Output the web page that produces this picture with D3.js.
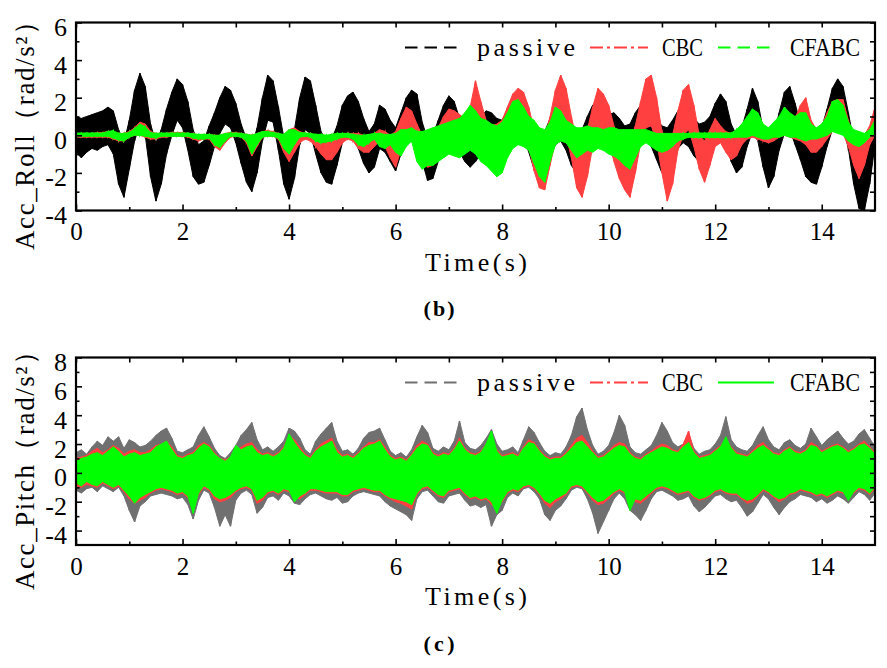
<!DOCTYPE html>
<html><head><meta charset="utf-8">
<script src="https://cdn.jsdelivr.net/npm/d3@7"></script>
<style>body{margin:0;background:#fff}svg{display:block}</style>
</head><body><svg id="c" width="887" height="668"></svg>
<script>
// ---------------- DATA (envelopes of the dense signals, sampled every 0.1 s) ----------------
const timeStep = 0.1;
const nSamples = 151;
const xTicksMajor = [0, 2, 4, 6, 8, 10, 12, 14];
const xTicksMinor = [1, 3, 5, 7, 9, 11, 13];
const rollTicksMajor = [-4, -2, 0, 2, 4, 6];
const rollTicksMinor = [-3, -1, 1, 3, 5];
const pitchTicksMajor = [-4, -2, 0, 2, 4, 6, 8];
const pitchTicksMinor = [-3, -1, 1, 3, 5, 7];
const seriesNames = ["passive", "CBC", "CFABC"];

// Acc_Roll (b)
const rollPassiveUpper = [
 1.0, 0.9, 1.0, 1.1, 1.2, 1.3, 1.5, 1.3, 0.3, -0.4,
 0.8, 2.4, 3.3, 2.6, 0.6, -0.4, 0.3, 1.4, 2.3, 3.0,
 2.7, 1.8, 0.3, -0.5, -0.3, 0.5, 1.2, 2.0, 2.6, 2.4,
 1.7, 0.6, -0.2, -0.6, 0.4, 2.0, 3.2, 2.9, 1.5, -0.1,
 -0.5, 0.3, 2.0, 3.1, 2.9, 1.6, 0.2, -0.3, -0.2, 0.5,
 1.6, 2.1, 2.3, 1.8, 0.9, 0.2, 0.6, 1.6, 1.4, 0.8,
 0.4, 1.2, 2.0, 2.4, 2.2, 0.7, -0.2, 0.0, 0.8, 1.6,
 2.1, 1.8, 0.9, 0.3, 0.0, 0.5, 1.0, 1.3, 1.2, 0.9,
 0.8, 1.4, 2.0, 2.3, 2.0, 1.2, 0.2, -0.2, 0.2, 0.9,
 1.6, 1.8, 1.2, 0.4, 0.0, 0.3, 1.0, 1.6, 1.9, 1.6,
 1.1, 1.2, 0.9, 0.5, 0.6, 1.2, 1.6, 1.8, 1.4, 0.9,
 0.5, 0.4, 0.8, 1.3, 1.6, 1.3, 0.9, 0.6, 0.7, 1.0,
 1.7, 2.2, 1.8, 0.6, 0.0, 0.4, 1.4, 2.5, 1.8, 0.3,
 -0.5, 0.0, 1.2, 2.3, 2.6, 1.7, 0.6, -0.2, -0.4, -0.3,
 0.4, 1.4, 2.5, 3.0, 2.6, 1.2, -0.3, -1.2, -0.9, 0.2,
 1.3];
const rollPassiveLower = [
 -0.9, -1.2, -0.9, -0.7, -0.8, -0.6, -0.5, -1.0, -2.6, -3.3,
 -1.8, -0.3, 0.6, 0.0, -2.2, -3.5, -2.6, -1.0, 0.0, 0.8,
 0.4, -0.8, -2.2, -2.6, -2.5, -1.6, -0.6, 0.1, 0.6, 0.4,
 -0.4, -1.5, -2.5, -3.0, -2.0, -0.3, 0.8, 0.7, -0.8, -2.6,
 -3.4, -2.3, -0.5, 0.3, 0.1, -1.0, -2.0, -2.5, -2.6, -1.6,
 -0.4, 0.0, -0.1, -0.7, -1.5, -2.0, -1.7, -0.7, -0.9, -1.4,
 -1.9, -1.0, -0.3, 0.0, -0.3, -1.4, -2.4, -2.3, -1.4, -0.4,
 0.0, -0.3, -0.9, -1.4, -1.7, -1.4, -1.0, -0.6, -0.8, -1.1,
 -1.3, -0.8, -0.3, 0.0, -0.2, -0.9, -1.8, -2.3, -2.0, -1.2,
 -0.5, -0.3, -0.8, -1.6, -2.0, -1.6, -0.9, -0.3, 0.0, -0.3,
 -0.8, -1.2, -1.8, -2.2, -1.9, -1.0, -0.4, -0.2, -0.6, -1.3,
 -2.0, -2.2, -1.5, -0.7, -0.4, -0.6, -1.1, -1.4, -1.5, -1.0,
 -0.5, 0.0, -0.4, -1.4, -2.0, -1.7, -0.6, 0.2, -0.3, -1.7,
 -2.8, -2.2, -0.8, 0.1, 0.3, -0.5, -1.3, -2.2, -2.5, -2.6,
 -1.7, -0.6, 0.3, 0.6, 0.4, -0.7, -2.6, -3.9, -4.0, -2.6,
 -0.5];
const rollCBCUpper = [
 0.1, 0.1, 0.1, 0.1, 0.15, 0.15, 0.2, 0.2, 0.1, 0.1,
 0.2, 0.4, 0.7, 0.6, 0.2, 0.1, 0.1, 0.1, 0.15, 0.15,
 0.15, 0.1, 0.1, 0.0, 0.0, 0.05, 0.0, 0.0, 0.1, 0.15,
 0.15, 0.1, 0.05, 0.0, 0.1, 0.2, 0.25, 0.2, 0.1, 0.0,
 0.3, 0.4, 0.2, 0.1, 0.1, 0.0, -0.1, -0.1, 0.0, 0.0,
 0.1, 0.1, 0.1, 0.1, 0.0, 0.0, 0.1, 0.3, 0.2, 0.0,
 0.2, 0.9, 1.5, 1.3, 0.6, 0.0, -0.2, 0.0, 0.4, 1.0,
 1.4, 1.3, 1.1, 0.9, 1.5, 2.9, 1.8, 0.8, 0.5, 0.6,
 0.8, 1.5, 2.2, 2.5, 2.3, 1.5, 0.3, -0.2, -0.1, 1.0,
 2.4, 3.2, 2.5, 1.0, -0.3, -0.6, 0.3, 1.5, 2.5, 2.2,
 1.6, 0.5, -0.2, -0.6, -0.4, 0.5, 1.8, 3.0, 3.2, 2.0,
 0.2, -0.5, 0.0, 1.3, 2.4, 2.7, 1.6, 0.0, -0.3, 0.3,
 0.9, 0.5, 0.2, 0.1, 0.1, 0.2, 0.5, 0.8, 0.6, 0.3,
 0.2, 0.4, 0.9, 1.3, 1.1, 0.9, 1.6, 2.0, 0.8, 0.3,
 0.5, 1.2, 1.8, 1.9, 1.9, 0.8, -0.1, -0.3, 0.0, 0.5,
 1.5];
const rollCBCLower = [
 -0.1, -0.1, -0.1, -0.1, -0.1, -0.1, -0.1, -0.2, -0.3, -0.3,
 -0.1, 0.0, 0.0, -0.1, -0.2, -0.2, -0.1, -0.1, -0.05, -0.05,
 -0.05, -0.1, -0.2, -0.3, -0.2, -0.2, -0.6, -0.8, -0.4, -0.1,
 -0.05, -0.1, -0.4, -1.1, -0.6, -0.1, -0.05, -0.05, -0.2, -0.9,
 -1.4, -0.9, -0.4, -0.2, -0.3, -0.6, -1.0, -1.3, -1.3, -0.9,
 -0.4, -0.2, -0.3, -0.7, -0.9, -0.9, -0.6, -0.3, -0.6, -1.2,
 -1.7, -0.8, -0.2, -0.2, -0.6, -1.3, -1.7, -1.6, -1.0, -0.5,
 -0.2, -0.3, -0.5, -0.7, -0.5, -0.2, -0.4, -1.0, -1.2, -1.4,
 -1.2, -0.6, -0.1, 0.1, 0.0, -0.6, -1.9, -2.8, -2.9, -1.6,
 -0.3, 0.3, 0.0, -1.2, -2.8, -3.3, -2.2, -0.6, 0.2, 0.1,
 -0.3, -1.4, -2.3, -2.9, -3.3, -2.0, -0.4, 0.4, 0.5, -0.3,
 -2.0, -3.5, -2.6, -0.8, 0.0, 0.3, -0.6, -1.8, -2.5, -1.6,
 -0.6, -0.4, -0.9, -1.3, -1.1, -0.5, -0.2, -0.1, -0.2, -0.3,
 -0.4, -0.3, -0.1, 0.0, -0.1, -0.2, -0.3, -0.5, -0.9, -0.9,
 -0.6, -0.2, 0.2, 0.3, 0.1, -0.6, -1.6, -2.3, -1.6, -0.5,
 0.0];
const rollCFABCUpper = [
 0.12, 0.12, 0.12, 0.12, 0.12, 0.12, 0.2, 0.25, 0.1, 0.1,
 0.15, 0.35, 0.6, 0.45, 0.15, 0.1, 0.12, 0.12, 0.12, 0.12,
 0.12, 0.12, 0.08, 0.05, 0.05, 0.05, 0.0, 0.0, 0.1, 0.12,
 0.12, 0.1, 0.05, 0.0, 0.1, 0.2, 0.2, 0.15, 0.1, 0.05,
 0.3, 0.3, 0.15, 0.12, 0.1, 0.05, 0.05, 0.0, 0.05, 0.1,
 0.1, 0.1, 0.05, 0.0, 0.0, 0.05, 0.1, 0.1, 0.05, 0.05,
 0.1, 0.3, 0.3, 0.4, 0.2, 0.2, 0.3, 0.4, 0.5, 0.6,
 0.7, 0.8, 0.9, 1.2, 1.6, 1.3, 0.9, 0.8, 0.6, 0.5,
 0.7, 1.2, 1.8, 1.9, 1.5, 1.0, 0.8, 0.4, 0.3, 0.7,
 1.5, 1.3, 0.8, 0.6, 0.4, 0.4, 0.5, 0.4, 0.4, 0.3,
 0.4, 0.4, 0.3, 0.3, 0.3, 0.3, 0.3, 0.3, 0.2, 0.1,
 0.1, 0.1, 0.1, 0.1, 0.1, 0.1, 0.12, 0.12, 0.12, 0.12,
 0.12, 0.12, 0.12, 0.12, 0.3, 0.6, 1.0, 1.4, 1.2, 0.6,
 0.4, 0.7, 1.0, 1.5, 1.2, 1.0, 1.2, 1.2, 0.6, 0.4,
 0.6, 1.0, 1.8, 1.9, 1.6, 0.7, 0.3, 0.2, 0.1, 0.3,
 0.8];
const rollCFABCLower = [
 -0.05, -0.05, -0.05, -0.05, -0.05, -0.05, -0.05, -0.15, -0.25, -0.3,
 -0.1, 0.0, 0.0, -0.05, -0.1, -0.15, -0.05, -0.05, -0.05, -0.05,
 -0.05, -0.05, -0.15, -0.2, -0.2, -0.15, -0.5, -0.65, -0.3, -0.05,
 -0.05, -0.1, -0.3, -1.0, -0.5, -0.1, -0.05, -0.05, -0.15, -0.7,
 -1.0, -0.5, -0.1, -0.05, -0.1, -0.3, -0.4, -0.35, -0.3, -0.2,
 -0.1, -0.1, -0.2, -0.5, -0.6, -0.4, -0.2, -0.6, -0.7, -0.5,
 -0.9, -1.1, -0.6, -0.3, -1.4, -1.8, -1.6, -1.6, -1.4, -1.2,
 -1.0, -1.1, -1.2, -1.0, -0.8, -1.0, -1.4, -1.6, -1.9, -2.2,
 -2.0, -1.2, -0.7, -0.5, -0.6, -0.8, -1.5, -2.2, -2.5, -1.4,
 -0.5, -0.3, -0.4, -0.8, -1.2, -1.0, -0.8, -0.9, -0.7, -0.8,
 -1.0, -1.1, -1.3, -1.6, -1.8, -1.2, -0.6, -0.4, -0.6, -0.8,
 -0.9, -0.8, -0.6, -0.3, -0.2, -0.1, -0.12, -0.12, -0.12, -0.12,
 -0.12, -0.12, -0.12, -0.12, -0.1, -0.1, -0.1, 0.0, -0.1, -0.2,
 -0.2, -0.1, -0.1, 0.0, -0.1, -0.1, -0.2, -0.3, -0.2, -0.2,
 -0.1, 0.0, 0.2, 0.1, 0.0, -0.3, -0.5, -0.6, -0.4, -0.1,
 0.1];

// Acc_Pitch (c)
const pitchPassiveUpper = [
 1.4, 1.6, 1.3, 1.8, 2.2, 1.9, 2.5, 2.2, 2.5, 1.7,
 2.3, 2.1, 1.8, 1.9, 2.2, 2.6, 2.9, 3.1, 2.4, 1.5,
 1.4, 1.6, 1.8, 2.6, 3.2, 2.5, 1.7, 1.2, 1.0, 1.4,
 1.9, 2.6, 3.0, 3.5, 2.3, 1.6, 1.8, 1.5, 1.8, 2.2,
 3.1, 2.9, 2.4, 1.6, 1.3, 2.2, 2.7, 3.1, 3.5, 2.2,
 1.5, 1.6, 1.3, 1.7, 2.4, 2.8, 2.9, 3.1, 2.3, 1.5,
 1.2, 1.4, 1.1, 1.6, 2.5, 3.3, 2.8, 1.7, 1.5, 1.8,
 1.6, 2.2, 3.6, 2.1, 1.7, 1.6, 1.9, 2.4, 3.0, 2.0,
 1.5, 1.6, 1.8, 1.4, 2.3, 3.2, 2.8, 2.1, 1.5, 1.2,
 1.4, 1.3, 1.8, 2.6, 3.9, 4.5, 3.0, 1.9, 1.3, 1.5,
 1.9, 2.8, 4.0, 3.3, 1.8, 1.4, 1.3, 1.6, 1.9, 2.6,
 3.5, 2.9, 2.1, 1.8, 2.0, 2.7, 1.7, 1.3, 1.5, 1.6,
 2.0, 2.6, 3.9, 2.3, 1.8, 1.6, 1.5, 1.9, 2.6, 3.2,
 2.3, 1.8, 1.6, 2.1, 2.3, 1.9, 1.7, 2.0, 3.1, 2.5,
 1.9, 2.3, 2.6, 2.9, 2.4, 2.0, 2.2, 2.7, 3.0, 2.4,
 1.8];
const pitchPassiveLower = [
 -1.2, -1.4, -1.1, -1.0, -1.3, -0.9, -1.1, -1.3, -1.0, -1.6,
 -2.6, -3.4, -2.3, -2.0, -1.6, -1.5, -1.4, -1.5, -1.6, -1.8,
 -1.7, -2.2, -3.2, -1.9, -1.2, -1.4, -2.4, -3.7, -2.9, -3.7,
 -1.9, -1.4, -1.2, -1.5, -2.8, -2.4, -1.7, -1.6, -1.9, -1.4,
 -1.6, -2.1, -2.2, -1.8, -1.5, -1.4, -1.6, -1.8, -1.9, -1.7,
 -2.1, -2.0, -1.6, -1.4, -1.3, -1.4, -1.5, -1.6, -2.0, -2.3,
 -2.5, -2.7, -2.9, -3.3, -1.8, -1.3, -1.2, -1.6, -2.0, -2.1,
 -1.6, -1.5, -1.4, -1.9, -2.3, -2.2, -2.4, -2.2, -3.7, -2.9,
 -2.6, -1.7, -1.4, -1.6, -1.1, -1.0, -1.3, -1.8, -2.9, -3.3,
 -2.6, -2.3, -1.8, -1.2, -1.0, -1.1, -1.8, -2.8, -4.2, -3.4,
 -2.6, -1.8, -1.4, -1.8, -2.6, -2.9, -3.3, -2.6, -1.8, -1.3,
 -1.2, -1.4, -1.6, -1.9, -1.8, -1.6, -2.3, -2.7, -2.4, -2.0,
 -1.6, -1.5, -1.8, -2.0, -1.9, -2.4, -3.0, -2.7, -2.1, -1.5,
 -1.8, -2.4, -2.9, -2.4, -2.0, -1.8, -1.5, -1.6, -1.7, -2.0,
 -1.8, -2.1, -1.9, -1.6, -1.8, -2.1, -1.7, -1.3, -1.5, -1.9,
 -1.4];
const pitchCBCUpper = [
 1.0, 1.1, 1.2, 1.5, 1.7, 1.4, 1.6, 1.9, 1.7, 1.3,
 1.5, 1.6, 1.4, 1.4, 1.6, 1.9, 2.0, 2.2, 1.8, 1.2,
 1.1, 1.3, 1.4, 1.9, 2.1, 1.9, 1.4, 1.0, 0.9, 1.1,
 1.4, 1.8, 2.0, 2.1, 1.6, 1.3, 1.4, 1.2, 1.4, 1.8,
 2.6, 2.3, 1.8, 1.3, 1.1, 1.6, 2.0, 2.2, 2.4, 1.6,
 1.2, 1.3, 1.1, 1.4, 1.8, 2.1, 2.1, 2.3, 1.8, 1.2,
 1.0, 1.1, 0.9, 1.3, 1.9, 2.2, 2.0, 1.4, 1.2, 1.4,
 1.3, 1.7, 2.4, 1.7, 1.4, 1.3, 1.5, 2.0, 2.3, 1.6,
 1.2, 1.3, 1.4, 1.2, 1.8, 2.3, 2.1, 1.6, 1.2, 1.0,
 1.1, 1.1, 1.4, 1.9, 2.4, 2.6, 2.1, 1.5, 1.1, 1.2,
 1.5, 1.9, 2.1, 2.0, 1.4, 1.1, 1.0, 1.3, 1.5, 1.8,
 2.0, 1.9, 1.6, 1.5, 2.0, 2.9, 1.5, 1.1, 1.2, 1.3,
 1.6, 1.9, 2.3, 1.8, 1.4, 1.3, 1.2, 1.5, 1.9, 2.1,
 1.7, 1.4, 1.3, 1.6, 1.8, 1.5, 1.4, 1.6, 2.1, 1.9,
 1.5, 1.7, 1.9, 2.0, 1.8, 1.5, 1.7, 2.0, 2.2, 1.8,
 1.4];
const pitchCBCLower = [
 -0.9, -1.0, -0.8, -0.9, -1.0, -0.7, -0.9, -1.1, -0.9, -1.3,
 -1.8, -2.1, -1.9, -1.7, -1.4, -1.2, -1.1, -1.2, -1.3, -1.5,
 -1.4, -1.7, -2.4, -1.5, -1.0, -1.2, -1.8, -2.0, -1.9, -1.7,
 -1.3, -1.1, -1.0, -1.2, -2.1, -1.9, -1.4, -1.3, -1.5, -1.2,
 -1.3, -1.7, -1.8, -1.5, -1.2, -1.2, -1.3, -1.4, -1.4, -1.4,
 -1.6, -1.6, -1.3, -1.2, -1.1, -1.2, -1.3, -1.3, -1.6, -1.8,
 -2.0, -2.1, -2.3, -2.5, -1.5, -1.1, -1.0, -1.3, -1.6, -1.7,
 -1.3, -1.2, -1.1, -1.5, -1.8, -1.7, -1.9, -1.8, -2.2, -2.3,
 -2.0, -1.4, -1.2, -1.3, -1.0, -0.9, -1.1, -1.5, -2.1, -2.4,
 -2.0, -1.8, -1.5, -1.0, -0.9, -1.0, -1.4, -1.9, -2.2, -2.1,
 -1.8, -1.4, -1.2, -1.4, -1.8, -2.0, -2.1, -1.8, -1.4, -1.1,
 -1.0, -1.1, -1.3, -1.5, -1.4, -1.3, -1.7, -1.9, -1.8, -1.6,
 -1.3, -1.2, -1.4, -1.5, -1.5, -1.8, -2.1, -2.0, -1.6, -1.2,
 -1.4, -1.7, -2.0, -1.8, -1.5, -1.4, -1.2, -1.3, -1.4, -1.6,
 -1.5, -1.7, -1.5, -1.3, -1.4, -1.6, -1.4, -1.1, -1.2, -1.5,
 -1.1];
const pitchCFABCUpper = [
 0.8, 1.0, 1.1, 1.3, 1.4, 1.2, 1.5, 1.8, 1.5, 1.1,
 1.3, 1.4, 1.2, 1.3, 1.4, 1.8, 2.0, 2.2, 1.6, 1.1,
 1.0, 1.2, 1.3, 1.7, 2.0, 1.8, 1.3, 1.0, 0.8, 1.1,
 1.9, 1.6, 1.8, 1.9, 1.4, 1.2, 1.3, 1.1, 1.3, 1.7,
 2.7, 2.1, 1.6, 1.2, 1.0, 1.5, 1.8, 2.0, 2.2, 1.4,
 1.1, 1.2, 1.0, 1.3, 1.7, 1.9, 2.0, 2.2, 1.6, 1.1,
 0.9, 1.0, 0.8, 1.2, 1.7, 2.0, 1.9, 1.3, 1.1, 1.3,
 1.2, 1.6, 2.2, 1.6, 1.3, 1.2, 1.4, 2.0, 2.9, 1.5,
 1.1, 1.2, 1.3, 1.1, 1.7, 2.1, 2.0, 1.5, 1.1, 0.9,
 1.0, 1.0, 1.3, 1.7, 2.1, 2.2, 1.8, 1.4, 1.0, 1.1,
 1.4, 1.7, 1.9, 1.8, 1.3, 1.0, 0.9, 1.2, 1.4, 1.6,
 1.8, 1.7, 1.5, 1.4, 1.8, 2.1, 1.4, 1.0, 1.1, 1.2,
 1.5, 1.8, 2.5, 1.7, 1.3, 1.2, 1.1, 1.4, 1.7, 1.9,
 1.6, 1.3, 1.2, 1.5, 1.7, 1.4, 1.3, 1.5, 1.9, 1.8,
 1.4, 1.6, 1.8, 1.9, 1.7, 1.4, 1.6, 1.9, 2.0, 1.7,
 1.3];
const pitchCFABCLower = [
 -0.7, -0.9, -0.6, -0.8, -0.9, -0.6, -0.8, -1.0, -0.8, -1.2,
 -1.6, -2.1, -1.7, -1.5, -1.3, -1.1, -1.0, -1.1, -1.2, -1.4,
 -1.3, -1.6, -2.8, -1.4, -0.9, -1.1, -1.6, -1.8, -1.7, -1.5,
 -1.2, -1.0, -0.9, -1.1, -1.9, -1.7, -1.3, -1.2, -1.4, -1.1,
 -1.2, -2.0, -1.6, -1.4, -1.1, -1.1, -1.2, -1.3, -1.3, -1.3,
 -1.5, -1.5, -1.2, -1.1, -1.0, -1.1, -1.2, -1.2, -1.5, -1.7,
 -1.8, -1.9, -2.0, -2.2, -1.4, -1.0, -0.9, -1.2, -1.5, -1.6,
 -1.2, -1.1, -1.0, -1.4, -1.7, -1.6, -1.8, -1.7, -2.0, -2.8,
 -1.9, -1.3, -1.1, -1.2, -0.9, -0.8, -1.0, -1.4, -1.9, -2.1,
 -1.8, -1.6, -1.4, -0.9, -0.8, -0.9, -1.3, -1.7, -2.0, -1.9,
 -1.6, -1.3, -1.1, -1.3, -2.6, -1.8, -1.9, -1.6, -1.3, -1.0,
 -0.9, -1.0, -1.2, -1.4, -1.3, -1.2, -1.6, -1.8, -1.7, -1.5,
 -1.2, -1.1, -1.3, -1.4, -1.4, -1.7, -1.9, -1.8, -1.5, -1.1,
 -1.3, -1.6, -1.8, -1.7, -1.4, -1.3, -1.1, -1.2, -1.3, -1.5,
 -1.4, -1.6, -1.4, -1.2, -1.3, -1.9, -1.3, -1.0, -1.1, -1.4,
 -1.0];

// ---------------- DRAWING ----------------
const time = d3.range(nSamples).map(i => +(i * timeStep).toFixed(1));
const svg = d3.select("#c");
svg.append("rect").attr("width", 887).attr("height", 668).attr("fill", "#fff");

const SERIF = "Liberation Serif, Times New Roman, serif";
const left = 76, right = 875;

function fitText(sel, width) {
  const w = sel.node().getComputedTextLength();
  sel.attr("textLength", width).attr("lengthAdjust", w > width ? "spacingAndGlyphs" : "spacing");
  return sel;
}

function panel(cfg) {
  const g = svg.append("g");
  const x = d3.scaleLinear().domain([0, 15]).range([left, right]);
  const y = d3.scaleLinear().domain(cfg.yDomain).range([cfg.bottom, cfg.top]);
  const clipId = "clip" + cfg.id;
  svg.append("clipPath").attr("id", clipId).append("rect")
    .attr("x", left).attr("y", cfg.top).attr("width", right - left).attr("height", cfg.bottom - cfg.top);

  const plot = g.append("g").attr("clip-path", `url(#${clipId})`);
  cfg.series.forEach(s => {
    const idx = d3.range(time.length);
    const area = d3.area()
      .x(i => x(time[i]))
      .y0(i => y(s.lower[i]))
      .y1(i => y(s.upper[i]));
    plot.append("path").datum(idx).attr("d", area)
      .attr("fill", s.color).attr("stroke", s.color).attr("stroke-width", 1);
    const zig = [];
    idx.forEach(i => { zig.push([x(time[i]), y(s.upper[i])]); zig.push([x(time[i]), y(s.lower[i])]); });
    plot.append("path").attr("d", d3.line()(zig))
      .attr("fill", "none").attr("stroke", s.color).attr("stroke-width", 1.4);
  });

  const fmt = d => String(d);
  const styleAxis = (a) => {
    a.select(".domain").remove();
    a.selectAll("line").attr("stroke", "#000").attr("stroke-width", 1.6);
    a.selectAll("text").attr("font-family", SERIF).attr("font-size", 25).attr("fill", "#000");
  };
  g.append("g").attr("transform", `translate(0,${cfg.bottom})`)
    .call(d3.axisBottom(x).tickValues(xTicksMajor).tickFormat(fmt).tickSizeInner(-6).tickSizeOuter(0).tickPadding(12))
    .call(styleAxis);
  g.append("g").attr("transform", `translate(0,${cfg.bottom})`)
    .call(d3.axisBottom(x).tickValues(xTicksMinor).tickFormat("").tickSizeInner(-3.5).tickSizeOuter(0))
    .call(styleAxis);
  g.append("g").attr("transform", `translate(0,${cfg.top})`)
    .call(d3.axisTop(x).tickValues(xTicksMajor.concat(xTicksMinor)).tickFormat("").tickSizeInner(-5).tickSizeOuter(0))
    .call(styleAxis);
  g.append("g").attr("transform", `translate(${left},0)`)
    .call(d3.axisLeft(y).tickValues(cfg.yMajor).tickFormat(fmt).tickSizeInner(-6).tickSizeOuter(0).tickPadding(9))
    .call(styleAxis)
    .selectAll("text").attr("font-size", 26).attr("dy", "0.5em");
  g.append("g").attr("transform", `translate(${left},0)`)
    .call(d3.axisLeft(y).tickValues(cfg.yMinor).tickFormat("").tickSizeInner(-3.5).tickSizeOuter(0))
    .call(styleAxis);
  g.append("g").attr("transform", `translate(${right},0)`)
    .call(d3.axisRight(y).tickValues(cfg.yMajor.concat(cfg.yMinor)).tickFormat("").tickSizeInner(-5).tickSizeOuter(0))
    .call(styleAxis);

  g.append("rect").attr("x", left).attr("y", cfg.top).attr("width", right - left).attr("height", cfg.bottom - cfg.top)
    .attr("fill", "none").attr("stroke", "#000").attr("stroke-width", 2.2);

  fitText(g.append("text").attr("x", 476).attr("y", cfg.bottom + 60)
    .attr("text-anchor", "middle").attr("font-family", SERIF).attr("font-size", 26).text("Time(s)"), 102);
  const yt = g.append("text").attr("transform", `translate(34,${cfg.yTitleCenter}) rotate(-90)`)
    .attr("text-anchor", "middle").attr("font-family", SERIF).attr("font-size", 27).text(cfg.yTitle);
  fitText(yt, cfg.yTitleLen);

  const ly = cfg.top + 25;
  const legend = [
    {x1: 405, x2: 458, tx: 477, tw: 98},
    {x1: 590, x2: 648, tx: 662, tw: 41},
    {x1: 718, x2: 774, tx: 790, tw: 70}
  ];
  cfg.series.forEach((s, k) => {
    const L = legend[k];
    g.append("line").attr("x1", L.x1).attr("x2", L.x2).attr("y1", ly).attr("y2", ly)
      .attr("stroke", s.color).attr("stroke-width", 2.2).attr("stroke-dasharray", s.dash);
    fitText(g.append("text").attr("x", L.tx).attr("y", ly + 8).attr("font-family", SERIF)
      .attr("font-size", 26).attr("fill", "#000").text(seriesNames[k]), L.tw);
  });

  fitText(svg.append("text").attr("x", 439).attr("y", cfg.captionY).attr("text-anchor", "middle")
    .attr("font-family", SERIF).attr("font-weight", "bold").attr("font-size", 22).text(cfg.caption), 31);
}

panel({
  id: "b", top: 22.5, bottom: 210.5, yDomain: [-4, 6],
  yMajor: rollTicksMajor, yMinor: rollTicksMinor,
  yTitle: "Acc_Roll（rad/s²）", yTitleCenter: 129, yTitleLen: 242,
  caption: "(b)", captionY: 316,
  series: [
    {upper: rollPassiveUpper, lower: rollPassiveLower, color: "#000000", dash: "12.5,7"},
    {upper: rollCBCUpper, lower: rollCBCLower, color: "#ff4040", dash: "13,4,3,4"},
    {upper: rollCFABCUpper, lower: rollCFABCLower, color: "#00ff00", dash: "12.5,7"}
  ]
});

panel({
  id: "c", top: 357.5, bottom: 545, yDomain: [-5, 8],
  yMajor: pitchTicksMajor, yMinor: pitchTicksMinor,
  yTitle: "Acc_Pitch（rad/s²）", yTitleCenter: 464, yTitleLen: 252,
  caption: "(c)", captionY: 651,
  series: [
    {upper: pitchPassiveUpper, lower: pitchPassiveLower, color: "#707070", dash: "12.5,7"},
    {upper: pitchCBCUpper, lower: pitchCBCLower, color: "#ff4040", dash: "13,4,3,4"},
    {upper: pitchCFABCUpper, lower: pitchCFABCLower, color: "#00ff00", dash: null}
  ]
});
</script>
</body></html>
